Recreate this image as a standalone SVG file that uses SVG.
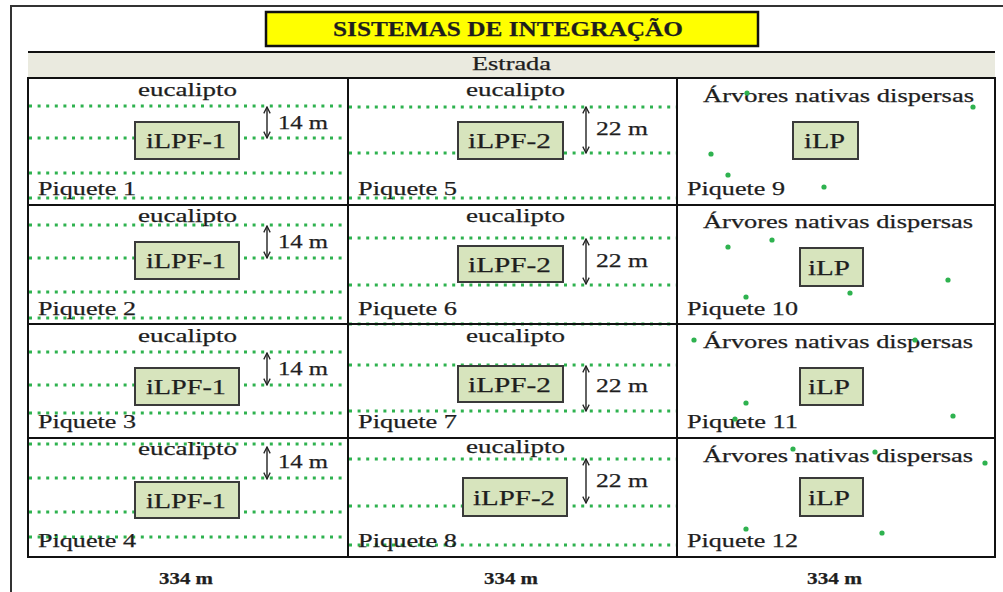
<svg xmlns="http://www.w3.org/2000/svg" width="1003" height="592" viewBox="0 0 1003 592">
<style>
.t{font-family:"Liberation Serif","Times New Roman",serif;fill:#1e1e1e;stroke:#1e1e1e;stroke-width:0.25;}
.lab{font-size:19.5px;}
.box{fill:#D7E4BD;stroke:#3a3a3a;stroke-width:2;}
.bt{font-size:22px;}
.dot{stroke:#2EB24F;stroke-width:3;stroke-dasharray:3 5.6;fill:none;}
.tree{fill:#2EB24F;}
.grid{fill:none;stroke:#111;stroke-width:2;}
.arr{stroke:#222;stroke-width:1.4;marker-start:url(#ah);marker-end:url(#ah);}
</style>
<defs>
<marker id="ah" viewBox="0 0 10 10" refX="9" refY="5" markerWidth="8" markerHeight="8" orient="auto-start-reverse" markerUnits="userSpaceOnUse">
<path d="M1,1 L9,5 L1,9" fill="none" stroke="#222" stroke-width="1.6"/>
</marker>
</defs>
<rect x="0" y="0" width="1003" height="592" fill="#fff"/>
<!-- outer frame -->
<path d="M11,600 L11,6 L1010,6" fill="none" stroke="#333" stroke-width="2"/>
<!-- title -->
<g id="title">
<rect x="266" y="12" width="492" height="34" fill="#FFFF00" stroke="#111" stroke-width="2.5"/>
<text class="t" x="333" y="36" font-size="21" font-weight="bold" textLength="350" lengthAdjust="spacingAndGlyphs">SISTEMAS DE INTEGRAÇÃO</text>
</g>
<!-- road -->
<g id="estrada">
<rect x="28" y="53" width="967" height="25" fill="#EAEADF"/>
<line x1="28" y1="52" x2="995" y2="52" stroke="#111" stroke-width="2"/>
<text class="t" x="472" y="70" font-size="18" textLength="79" lengthAdjust="spacingAndGlyphs">Estrada</text>
</g>
<!-- dotted eucalyptus rows -->
<g id="rows">
<path class="dot" d="M29,106H348M29,138H348M29,173H348M29,198H348M29,225H348M29,258H348M29,292H348M29,318H348M29,352H348M29,385H348M29,413H348M29,444H348M29,478H348M29,512H348M29,537H348"/>
<path class="dot" d="M349,107H677M349,153H677M349,198H677M349,238H677M349,285H677M349,324H677M349,365H677M349,411H677M349,459H677M349,506H677M349,545H677"/>
</g>
<!-- grid -->
<g id="grid">
<rect class="grid" x="28" y="78" width="967" height="479"/>
<path class="grid" d="M348,78V557M677,78V557M28,205H995M28,324H995M28,438H995"/>
</g>
<!-- column 1 -->
<g id="piquete1">
<text class="t lab" x="138" y="96" textLength="99" lengthAdjust="spacingAndGlyphs">eucalipto</text>
<rect class="box" x="135" y="122" width="104" height="37"/>
<text class="t bt" x="146" y="148" textLength="80" lengthAdjust="spacingAndGlyphs">iLPF-1</text>
<text class="t lab" x="278" y="129" textLength="50" lengthAdjust="spacingAndGlyphs">14 m</text>
<text class="t lab" x="38" y="195" textLength="98" lengthAdjust="spacingAndGlyphs">Piquete 1</text>
</g>
<g id="piquete2">
<text class="t lab" x="138" y="222" textLength="99" lengthAdjust="spacingAndGlyphs">eucalipto</text>
<rect class="box" x="135" y="242" width="104" height="37"/>
<text class="t bt" x="146" y="268" textLength="80" lengthAdjust="spacingAndGlyphs">iLPF-1</text>
<text class="t lab" x="278" y="248" textLength="50" lengthAdjust="spacingAndGlyphs">14 m</text>
<text class="t lab" x="38" y="315" textLength="98" lengthAdjust="spacingAndGlyphs">Piquete 2</text>
</g>
<g id="piquete3">
<text class="t lab" x="138" y="342" textLength="99" lengthAdjust="spacingAndGlyphs">eucalipto</text>
<rect class="box" x="135" y="368" width="104" height="37"/>
<text class="t bt" x="146" y="394" textLength="80" lengthAdjust="spacingAndGlyphs">iLPF-1</text>
<text class="t lab" x="278" y="375" textLength="50" lengthAdjust="spacingAndGlyphs">14 m</text>
<text class="t lab" x="38" y="428" textLength="98" lengthAdjust="spacingAndGlyphs">Piquete 3</text>
</g>
<g id="piquete4">
<text class="t lab" x="138" y="455" textLength="99" lengthAdjust="spacingAndGlyphs">eucalipto</text>
<rect class="box" x="135" y="482" width="104" height="36"/>
<text class="t bt" x="146" y="508" textLength="80" lengthAdjust="spacingAndGlyphs">iLPF-1</text>
<text class="t lab" x="278" y="468" textLength="50" lengthAdjust="spacingAndGlyphs">14 m</text>
<text class="t lab" x="38" y="547" textLength="98" lengthAdjust="spacingAndGlyphs">Piquete 4</text>
</g>
<!-- column 2 -->
<g id="piquete5">
<text class="t lab" x="466" y="96" textLength="99" lengthAdjust="spacingAndGlyphs">eucalipto</text>
<rect class="box" x="458" y="122" width="105" height="37"/>
<text class="t bt" x="468" y="148" textLength="83" lengthAdjust="spacingAndGlyphs">iLPF-2</text>
<text class="t lab" x="596" y="135" textLength="52" lengthAdjust="spacingAndGlyphs">22 m</text>
<text class="t lab" x="358" y="195" textLength="99" lengthAdjust="spacingAndGlyphs">Piquete 5</text>
</g>
<g id="piquete6">
<text class="t lab" x="466" y="222" textLength="99" lengthAdjust="spacingAndGlyphs">eucalipto</text>
<rect class="box" x="458" y="246" width="105" height="36"/>
<text class="t bt" x="468" y="272" textLength="83" lengthAdjust="spacingAndGlyphs">iLPF-2</text>
<text class="t lab" x="596" y="267" textLength="52" lengthAdjust="spacingAndGlyphs">22 m</text>
<text class="t lab" x="358" y="315" textLength="99" lengthAdjust="spacingAndGlyphs">Piquete 6</text>
</g>
<g id="piquete7">
<text class="t lab" x="466" y="342" textLength="99" lengthAdjust="spacingAndGlyphs">eucalipto</text>
<rect class="box" x="458" y="366" width="105" height="36"/>
<text class="t bt" x="468" y="392" textLength="83" lengthAdjust="spacingAndGlyphs">iLPF-2</text>
<text class="t lab" x="596" y="392" textLength="52" lengthAdjust="spacingAndGlyphs">22 m</text>
<text class="t lab" x="358" y="428" textLength="99" lengthAdjust="spacingAndGlyphs">Piquete 7</text>
</g>
<g id="piquete8">
<text class="t lab" x="466" y="453" textLength="99" lengthAdjust="spacingAndGlyphs">eucalipto</text>
<rect class="box" x="463" y="478" width="104" height="38"/>
<text class="t bt" x="473" y="505" textLength="82" lengthAdjust="spacingAndGlyphs">iLPF-2</text>
<text class="t lab" x="596" y="487" textLength="52" lengthAdjust="spacingAndGlyphs">22 m</text>
<text class="t lab" x="358" y="547" textLength="99" lengthAdjust="spacingAndGlyphs">Piquete 8</text>
</g>
<!-- column 3 -->
<g id="piquete9">
<text class="t lab" x="703" y="102" textLength="271" lengthAdjust="spacingAndGlyphs">Árvores nativas dispersas</text>
<rect class="box" x="793" y="122" width="65" height="37"/>
<text class="t bt" x="804" y="148" textLength="41" lengthAdjust="spacingAndGlyphs">iLP</text>
<text class="t lab" x="687" y="195" textLength="98" lengthAdjust="spacingAndGlyphs">Piquete 9</text>
<circle class="tree" cx="747" cy="93" r="2.6"/>
<circle class="tree" cx="973" cy="107" r="2.6"/>
<circle class="tree" cx="711" cy="154" r="2.6"/>
<circle class="tree" cx="728" cy="175" r="2.6"/>
<circle class="tree" cx="824" cy="187" r="2.6"/>
</g>
<g id="piquete10">
<text class="t lab" x="703" y="228" textLength="270" lengthAdjust="spacingAndGlyphs">Árvores nativas dispersas</text>
<rect class="box" x="800" y="248" width="63" height="38"/>
<text class="t bt" x="808" y="275" textLength="42" lengthAdjust="spacingAndGlyphs">iLP</text>
<text class="t lab" x="687" y="315" textLength="111" lengthAdjust="spacingAndGlyphs">Piquete 10</text>
<circle class="tree" cx="728" cy="247" r="2.6"/>
<circle class="tree" cx="772" cy="240" r="2.6"/>
<circle class="tree" cx="948" cy="280" r="2.6"/>
<circle class="tree" cx="746" cy="297" r="2.6"/>
<circle class="tree" cx="850" cy="293" r="2.6"/>
</g>
<g id="piquete11">
<text class="t lab" x="703" y="348" textLength="270" lengthAdjust="spacingAndGlyphs">Árvores nativas dispersas</text>
<rect class="box" x="800" y="368" width="63" height="37"/>
<text class="t bt" x="808" y="394" textLength="42" lengthAdjust="spacingAndGlyphs">iLP</text>
<text class="t lab" x="687" y="428" textLength="111" lengthAdjust="spacingAndGlyphs">Piquete 11</text>
<circle class="tree" cx="694" cy="340" r="2.6"/>
<circle class="tree" cx="915" cy="340" r="2.6"/>
<circle class="tree" cx="746" cy="403" r="2.6"/>
<circle class="tree" cx="735" cy="419" r="2.6"/>
<circle class="tree" cx="953" cy="416" r="2.6"/>
</g>
<g id="piquete12">
<text class="t lab" x="703" y="462" textLength="270" lengthAdjust="spacingAndGlyphs">Árvores nativas dispersas</text>
<rect class="box" x="800" y="478" width="63" height="38"/>
<text class="t bt" x="808" y="505" textLength="42" lengthAdjust="spacingAndGlyphs">iLP</text>
<text class="t lab" x="687" y="547" textLength="111" lengthAdjust="spacingAndGlyphs">Piquete 12</text>
<circle class="tree" cx="793" cy="449" r="2.6"/>
<circle class="tree" cx="875" cy="452" r="2.6"/>
<circle class="tree" cx="985" cy="463" r="2.6"/>
<circle class="tree" cx="746" cy="529" r="2.6"/>
<circle class="tree" cx="882" cy="533" r="2.6"/>
</g>
<!-- spacing arrows -->
<g id="connectors">
<line class="arr" x1="267" y1="107" x2="267" y2="138"/>
<line class="arr" x1="267" y1="226" x2="267" y2="258"/>
<line class="arr" x1="267" y1="353" x2="267" y2="385"/>
<line class="arr" x1="267" y1="447" x2="267" y2="479"/>
<line class="arr" x1="586" y1="107" x2="586" y2="153"/>
<line class="arr" x1="586" y1="239" x2="586" y2="284"/>
<line class="arr" x1="586" y1="366" x2="586" y2="411"/>
<line class="arr" x1="586" y1="459" x2="586" y2="503"/>
</g>
<!-- widths -->
<g id="widths">
<text class="t" x="159" y="584" font-size="17" font-weight="bold" textLength="54" lengthAdjust="spacingAndGlyphs">334 m</text>
<text class="t" x="484" y="584" font-size="17" font-weight="bold" textLength="54" lengthAdjust="spacingAndGlyphs">334 m</text>
<text class="t" x="807" y="584" font-size="17" font-weight="bold" textLength="55" lengthAdjust="spacingAndGlyphs">334 m</text>
</g>
</svg>
